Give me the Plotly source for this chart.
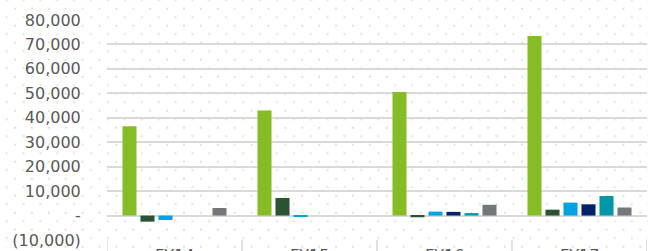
import base64
import plotly.graph_objects as go

categories = ["FY14", "FY15", "FY16", "FY17"]
series_names = ["Series 1", "Series 2", "Series 3", "Series 4", "Series 5", "Series 6"]
series_values = [
    [36500, 43000, 50500, 73500],
    [-2500, 7200, -700, 2400],
    [-1800, -500, 1600, 5300],
    [0, 0, 1500, 4600],
    [0, 0, 1000, 8000],
    [3100, 0, 4400, 3300],
]
colors = ["#86BC25", "#2C5234", "#00A3E0", "#012169", "#0097A9", "#75787B"]
tick_vals = [-10000, 0, 10000, 20000, 30000, 40000, 50000, 60000, 70000, 80000]
tick_text = ["(10,000)", "-", "10,000", "20,000", "30,000", "40,000",
             "50,000", "60,000", "70,000", "80,000"]

W, H = 648, 251
ML, MR, MT, MB = 107, 1, 20, 11
PW, PH = W - ML - MR, H - MT - MB

# decorative dotted background fill (pattern, like the original chart area fill)
svg = (
    f"<svg xmlns='http://www.w3.org/2000/svg' width='{W}' height='{H}'>"
    "<defs><pattern id='p' x='14' y='7.7' width='16.9' height='17' patternUnits='userSpaceOnUse'>"
    "<rect x='0' y='0' width='2' height='2' fill='#d6eac6'/>"
    "<rect x='8.45' y='8.5' width='2' height='2' fill='#d6eac6'/>"
    "</pattern></defs>"
    f"<rect width='{W}' height='{H}' fill='url(#p)'/></svg>"
)
bg_src = "data:image/svg+xml;base64," + base64.b64encode(svg.encode()).decode()

fig = go.Figure()
for name, vals, col in zip(series_names, series_values, colors):
    fig.add_trace(go.Bar(x=categories, y=vals, name=name, marker_color=col,
                         marker_line_width=0))

font_col = "#595959"
fig.update_layout(
    width=W, height=H,
    margin=dict(l=ML, r=MR, t=MT, b=MB, autoexpand=False),
    paper_bgcolor="white", plot_bgcolor="rgba(0,0,0,0)",
    barmode="group", bargap=0.2, bargroupgap=0.22,
    showlegend=False,
    font=dict(family="DejaVu Sans", size=16, color=font_col),
    images=[dict(source=bg_src, xref="paper", yref="paper",
                 x=-ML / PW, y=1 + MT / PH, sizex=W / PW, sizey=H / PH,
                 xanchor="left", yanchor="top", sizing="stretch", layer="below")],
)
fig.update_yaxes(range=[-10000, 80000], tickvals=tick_vals, ticktext=tick_text,
                 showgrid=True, gridcolor="#d9d9d9", gridwidth=1.5,
                 zeroline=True, zerolinecolor="#d9d9d9", zerolinewidth=1.5,
                 ticks="outside", ticklen=22, tickcolor="rgba(0,0,0,0)",
                 showline=False, automargin=False,
                 tickfont=dict(family="DejaVu Sans", size=16, color=font_col))
fig.update_xaxes(showticklabels=False, showgrid=False, zeroline=False,
                 range=[-0.5, 3.5], automargin=False)

for i, c in enumerate(categories):
    fig.add_annotation(x=c, xref="x", y=0, yref="paper", yanchor="top",
                       text=c, showarrow=False, yshift=-4,
                       font=dict(size=16, color=font_col))
for b in [-0.5, 0.5, 1.5, 2.5, 3.5]:
    fig.add_shape(type="line", xref="x", yref="paper", x0=b, x1=b, y0=0, y1=-0.2,
                  line=dict(color="#d9d9d9", width=1.5))

fig.write_html("out.html", config={"displayModeBar": False},
               post_script="document.body.style.margin='0';document.body.style.overflow='hidden';")
